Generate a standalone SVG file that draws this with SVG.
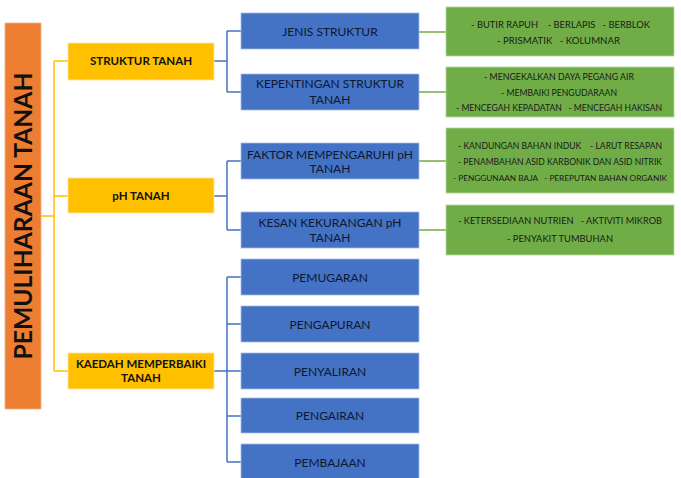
<svg xmlns="http://www.w3.org/2000/svg" width="681" height="478" viewBox="0 0 681 478">
<style>
.bg{fill:#ffffff}
.title{fill:#ED7D31;stroke:#f4b183;stroke-width:0.8}
.ttl{font-family:Lato,"Liberation Sans",sans-serif;font-weight:bold;font-size:25px;fill:#111;text-anchor:middle}
.yb{fill:#FFC000;stroke:#ffe699;stroke-width:0.8}
.yt{font-family:Lato,"Liberation Sans",sans-serif;font-weight:bold;font-size:11.5px;fill:#111;text-anchor:middle}
.bb{fill:#4472C4;stroke:#a9bfe6;stroke-width:0.8}
.bt{font-family:Lato,"Liberation Sans",sans-serif;font-size:12px;fill:#0e1830;text-anchor:middle}
.gb{fill:#70AD47;stroke:#b5d69e;stroke-width:0.8}
.gt{font-family:Lato,"Liberation Sans",sans-serif;font-size:9px;fill:#1a1a1a;text-anchor:middle}
.gs{font-size:8.3px}
.cy{fill:none;stroke:#FFC000;stroke-width:1.5}
.cb{fill:none;stroke:#4472C4;stroke-width:1.5}
.cg{fill:none;stroke:#70AD47;stroke-width:1.5}
</style>
<rect class="bg" x="0" y="0" width="681" height="478"/>
<g id="connectors">
  <path class="cy" d="M41,216 H54 M54,61 V371 M54,61 H68 M54,196 H68 M54,371 H68"/>
  <path class="cb" d="M214,61 H227 M227,31 V92 M227,31 H241 M227,92 H241"/>
  <path class="cb" d="M214,196 H227 M227,161 V230 M227,161 H241 M227,230 H241"/>
  <path class="cb" d="M214,371 H227 M227,277 V462 M227,277 H241 M227,324 H241 M227,371 H241 M227,416 H241 M227,462 H241"/>
  <path class="cg" d="M419,32 H446 M419,92 H446 M419,161 H446 M419,230 H446"/>
</g>
<g id="title">
  <rect class="title" x="5" y="23" width="36" height="386"/>
  <text class="ttl" transform="translate(32,216) rotate(-90)" x="0" y="0" textLength="287" lengthAdjust="spacingAndGlyphs">PEMULIHARAAN TANAH</text>
</g>
<g id="struktur-tanah">
  <rect class="yb" x="68" y="43" width="146" height="37"/>
  <text class="yt" x="141" y="65">STRUKTUR TANAH</text>
</g>
<g id="ph-tanah">
  <rect class="yb" x="68" y="178" width="146" height="35"/>
  <text class="yt" x="141" y="200">pH TANAH</text>
</g>
<g id="kaedah">
  <rect class="yb" x="68" y="353" width="146" height="36"/>
  <text class="yt" x="141" y="368">KAEDAH MEMPERBAIKI</text>
  <text class="yt" x="141" y="382">TANAH</text>
</g>
<g id="jenis-struktur">
  <rect class="bb" x="241" y="13" width="178" height="36"/>
  <text class="bt" x="330" y="35.5">JENIS STRUKTUR</text>
</g>
<g id="kepentingan">
  <rect class="bb" x="241" y="74" width="178" height="36"/>
  <text class="bt" x="330" y="87.5">KEPENTINGAN STRUKTUR</text>
  <text class="bt" x="330" y="103.5">TANAH</text>
</g>
<g id="faktor">
  <rect class="bb" x="241" y="143" width="178" height="36"/>
  <text class="bt" x="330" y="158.5">FAKTOR MEMPENGARUHI pH</text>
  <text class="bt" x="330" y="172.5">TANAH</text>
</g>
<g id="kesan">
  <rect class="bb" x="241" y="212" width="178" height="36"/>
  <text class="bt" x="330" y="226.5">KESAN KEKURANGAN pH</text>
  <text class="bt" x="330" y="241.5">TANAH</text>
</g>
<g id="pemugaran">
  <rect class="bb" x="241" y="259" width="178" height="36"/>
  <text class="bt" x="330" y="281.5">PEMUGARAN</text>
</g>
<g id="pengapuran">
  <rect class="bb" x="241" y="306" width="178" height="36"/>
  <text class="bt" x="330" y="328.5">PENGAPURAN</text>
</g>
<g id="penyaliran">
  <rect class="bb" x="241" y="353" width="178" height="36"/>
  <text class="bt" x="330" y="375.5">PENYALIRAN</text>
</g>
<g id="pengairan">
  <rect class="bb" x="241" y="398" width="178" height="35"/>
  <text class="bt" x="330" y="420">PENGAIRAN</text>
</g>
<g id="pembajaan">
  <rect class="bb" x="241" y="444" width="178" height="36"/>
  <text class="bt" x="330" y="466.5">PEMBAJAAN</text>
</g>
<g id="jenis-list">
  <rect class="gb" x="446" y="7" width="228" height="49"/>
  <text class="gt" x="560.5" y="27.5" xml:space="preserve" textLength="179" lengthAdjust="spacingAndGlyphs">- BUTIR RAPUH    - BERLAPIS   - BERBLOK</text>
  <text class="gt" x="558.5" y="43.5" xml:space="preserve" textLength="123" lengthAdjust="spacingAndGlyphs">- PRISMATIK   - KOLUMNAR</text>
</g>
<g id="kepentingan-list">
  <rect class="gb" x="446" y="67" width="228" height="50"/>
  <text class="gt" x="559" y="79.5" textLength="150" lengthAdjust="spacingAndGlyphs">- MENGEKALKAN DAYA PEGANG AIR</text>
  <text class="gt" x="559" y="95.5" textLength="116" lengthAdjust="spacingAndGlyphs">- MEMBAIKI PENGUDARAAN</text>
  <text class="gt" x="559" y="110.5" xml:space="preserve" textLength="206" lengthAdjust="spacingAndGlyphs">- MENCEGAH KEPADATAN   - MENCEGAH HAKISAN</text>
</g>
<g id="faktor-list">
  <rect class="gb" x="446" y="128" width="228" height="65"/>
  <text class="gt" x="560" y="148.5" xml:space="preserve" textLength="204" lengthAdjust="spacingAndGlyphs">- KANDUNGAN BAHAN INDUK    - LARUT RESAPAN</text>
  <text class="gt" x="560" y="164.5" textLength="204" lengthAdjust="spacingAndGlyphs">- PENAMBAHAN ASID KARBONIK DAN ASID NITRIK</text>
  <text class="gt gs" x="560" y="180.5" textLength="214" lengthAdjust="spacingAndGlyphs">- PENGGUNAAN BAJA&#160;&#160; - PEREPUTAN BAHAN ORGANIK</text>
</g>
<g id="kesan-list">
  <rect class="gb" x="446" y="205" width="228" height="50"/>
  <text class="gt" x="560" y="223.5" xml:space="preserve" textLength="204" lengthAdjust="spacingAndGlyphs">- KETERSEDIAAN NUTRIEN   - AKTIVITI MIKROB</text>
  <text class="gt" x="560" y="241.5" textLength="106" lengthAdjust="spacingAndGlyphs">- PENYAKIT TUMBUHAN</text>
</g>
</svg>
